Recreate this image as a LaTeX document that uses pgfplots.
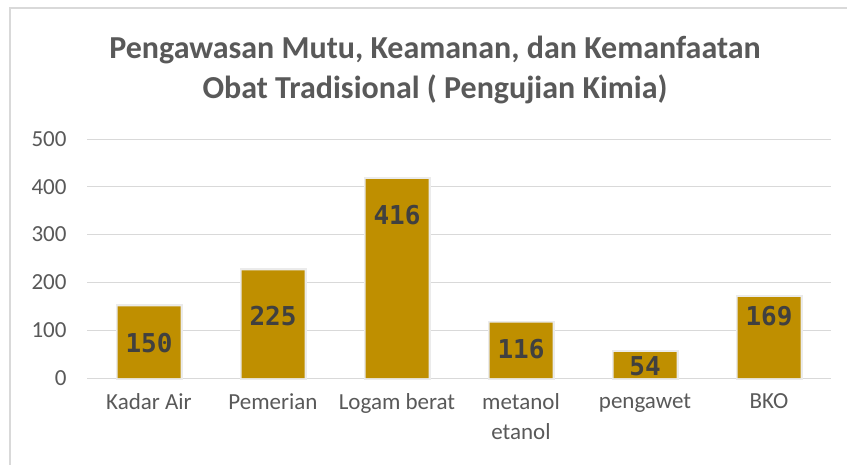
\documentclass[border=0pt]{standalone}
\usepackage{pgfplots}
\pgfplotsset{compat=1.18}
\usepackage{fontspec}
\setmainfont{Carlito}
\newfontfamily\valfont{DejaVu Sans Mono}
\definecolor{bargold}{HTML}{BF8F00}
\definecolor{txtgray}{HTML}{595959}
\definecolor{valgray}{HTML}{404040}
\definecolor{gridgray}{HTML}{D9D9D9}
\begin{document}
\begin{tikzpicture}
\useasboundingbox (0,0) rectangle (847bp,465bp);
\fill[white] (0,0) rectangle (847bp,465bp);
\draw[black!15, line width=1.5bp] (10bp,0) -- (10bp,457bp) -- (847bp,457bp);
\node[text=txtgray, font=\fontsize{32bp}{40bp}\selectfont\bfseries, align=center] at (435bp,395bp)
  {Pengawasan Mutu, Keamanan, dan Kemanfaatan\\Obat Tradisional ( Pengujian Kimia)};
\begin{axis}[
  at={(87bp,87bp)}, anchor=south west,
  scale only axis, width=744bp, height=239bp,
  xmin=-0.5, xmax=5.5, ymin=0, ymax=500,
  ytick={0,100,...,500},
  xtick={0,...,5},
  xticklabels={Kadar Air, Pemerian, Logam berat, {metanol\\etanol}, pengawet, BKO},
  axis line style={draw=none},
  ymajorgrids, grid style={gridgray, line width=1bp},
  major tick length=0pt,
  /pgf/number format/assume math mode=true,
  tick label style={text=txtgray, font=\fontsize{23bp}{30bp}\selectfont},
  yticklabel style={anchor=east, xshift=-17bp},
  xticklabel style={align=center, yshift=-12bp},
  clip=false,
]
\addplot[ybar, bar shift=0pt, bar width=63bp, fill=none, draw=black!8, line width=4bp]
  coordinates {(0,150) (1,225) (2,416) (3,116) (4,54) (5,169)};
\addplot[ybar, bar shift=0pt, bar width=63bp, fill=bargold, draw=none]
  coordinates {(0,150) (1,225) (2,416) (3,116) (4,54) (5,169)};
\addplot[draw=none, mark=none, nodes near coords, point meta=explicit symbolic,
  nodes near coords style={anchor=center, text=valgray, font=\fontsize{26bp}{28bp}\selectfont\valfont\bfseries}]
  coordinates {(0,73)[150] (1,130)[225] (2,341)[416] (3,61)[116] (4,25)[54] (5,130)[169]};
\end{axis}
\end{tikzpicture}
\end{document}
